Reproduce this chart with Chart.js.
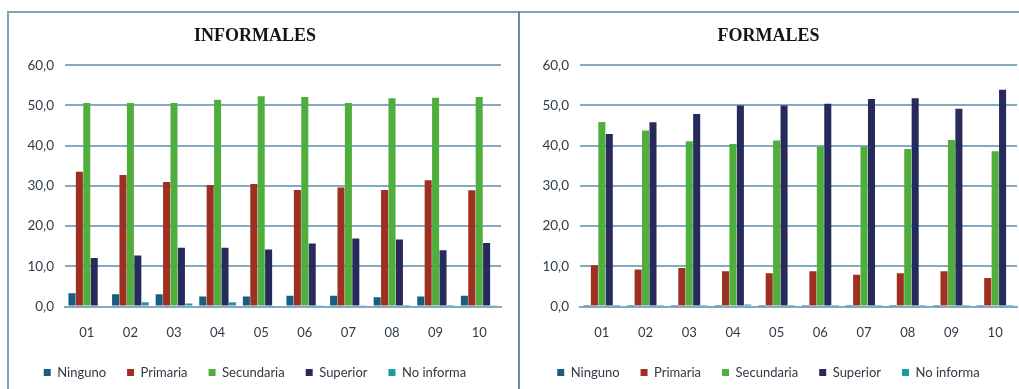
<!DOCTYPE html>
<html>
<head>
<meta charset="utf-8">
<script src="https://cdn.jsdelivr.net/npm/chart.js@4.4.0/dist/chart.umd.min.js"></script>
<style>
  html, body { margin: 0; padding: 0; background: #ffffff; }
  body { position: relative; width: 1019px; height: 389px; overflow: hidden; }
  .rule { position: absolute; background: #86a1b2; }
  #topRule { left: 7px; top: 11px; width: 1012px; height: 2px; }
  #leftRule { left: 7px; top: 11px; width: 2px; height: 378px; }
  #midRule { left: 518px; top: 11px; width: 2px; height: 378px; background: #6c8a9c; }
  .panel { position: absolute; top: 13px; height: 376px; }
  #panelInf { left: 9px; width: 509px; }
  #panelFor { left: 520px; width: 514px; }
</style>
</head>
<body>
<div class="rule" id="topRule"></div>
<div class="rule" id="leftRule"></div>
<div class="rule" id="midRule"></div>
<div class="panel" id="panelInf"><canvas id="chartInf"></canvas></div>
<div class="panel" id="panelFor"><canvas id="chartFor"></canvas></div>
<script>
// Categories and legend names
const categories = ['01', '02', '03', '04', '05', '06', '07', '08', '09', '10'];
const seriesNames = ['Ninguno', 'Primaria', 'Secundaria', 'Superior', 'No informa'];
const yTickValues = [0, 10, 20, 30, 40, 50, 60];

// INFORMALES (%)
const infNinguno    = [3.3, 3.1, 3.1, 2.5, 2.5, 2.7, 2.7, 2.3, 2.5, 2.7];
const infPrimaria   = [33.5, 32.7, 31.0, 30.2, 30.5, 29.0, 29.6, 29.0, 31.4, 28.9];
const infSecundaria = [50.6, 50.6, 50.6, 51.4, 52.3, 52.1, 50.6, 51.8, 51.9, 52.1];
const infSuperior   = [12.1, 12.7, 14.6, 14.6, 14.2, 15.7, 16.9, 16.7, 14.0, 15.8];
const infNoInforma  = [0.3, 1.1, 0.8, 1.1, 0.3, 0.2, 0.2, 0.1, 0.1, 0.2];

// FORMALES (%)
const forNinguno    = [0.1, 0.1, 0.1, 0.1, 0.1, 0.1, 0.1, 0.1, 0.1, 0.1];
const forPrimaria   = [10.3, 9.2, 9.6, 8.8, 8.3, 8.8, 7.9, 8.3, 8.8, 7.1];
const forSecundaria = [45.9, 43.8, 41.1, 40.4, 41.3, 39.8, 39.8, 39.2, 41.4, 38.6];
const forSuperior   = [42.9, 45.8, 47.9, 50.0, 50.0, 50.4, 51.6, 51.8, 49.2, 53.9];
const forNoInforma  = [0.1, 0.4, 0.4, 0.5, 0.1, 0.1, 0.1, 0.1, 0.1, 0.1];

const seriesColors = ['#1b5d7e', '#9e3021', '#4fae3c', '#272b5c', '#1f9aa2'];
const gridColor = '#84aac3';
const textColor = '#2f3b47';

function makeDatasets(valueLists) {
  return valueLists.map((vals, i) => ({
    label: seriesNames[i],
    data: vals,
    backgroundColor: seriesColors[i],
    borderWidth: 0,
    categoryPercentage: 0.85,
    barPercentage: 0.95
  }));
}

function makeChart(canvasId, title, valueLists, axisWidth) {
  return new Chart(document.getElementById(canvasId), {
    type: 'bar',
    data: { labels: categories, datasets: makeDatasets(valueLists) },
    options: {
      responsive: true,
      maintainAspectRatio: false,
      animation: false,
      layout: { padding: { left: 0, right: 17, top: 0, bottom: 0 } },
      plugins: {
        title: {
          display: true,
          text: title,
          color: '#141414',
          font: { family: '"Liberation Serif", "DejaVu Serif", serif', size: 18, weight: 'bold' },
          padding: { top: 13, bottom: 17.6 }
        },
        legend: {
          position: 'bottom',
          labels: {
            boxWidth: 7,
            boxHeight: 7,
            padding: 21,
            color: '#2e3944',
            font: { family: 'Lato, "Open Sans", sans-serif', size: 13 }
          }
        },
        tooltip: { enabled: false }
      },
      scales: {
        x: {
          grid: { display: false, drawTicks: false },
          border: { display: true, color: gridColor, width: 2 },
          ticks: {
            color: textColor,
            padding: 18,
            font: { family: 'Lato, "Open Sans", sans-serif', size: 13 }
          },
          afterFit: (scale) => { scale.height = 38.4; }
        },
        y: {
          min: 0,
          max: 60,
          afterBuildTicks: (scale) => { scale.ticks = yTickValues.map(v => ({ value: v })); },
          grid: { color: gridColor, lineWidth: 2, drawTicks: false },
          border: { display: false },
          ticks: {
            color: textColor,
            padding: 11,
            font: { family: 'Lato, "Open Sans", sans-serif', size: 13.5 },
            callback: (v) => Number(v).toFixed(1).replace('.', ',')
          },
          afterFit: (scale) => { scale.width = axisWidth; }
        }
      }
    }
  });
}

makeChart('chartInf', 'INFORMALES',
  [infNinguno, infPrimaria, infSecundaria, infSuperior, infNoInforma], 56);
makeChart('chartFor', 'FORMALES',
  [forNinguno, forPrimaria, forSecundaria, forSuperior, forNoInforma], 60);
</script>
</body>
</html>
